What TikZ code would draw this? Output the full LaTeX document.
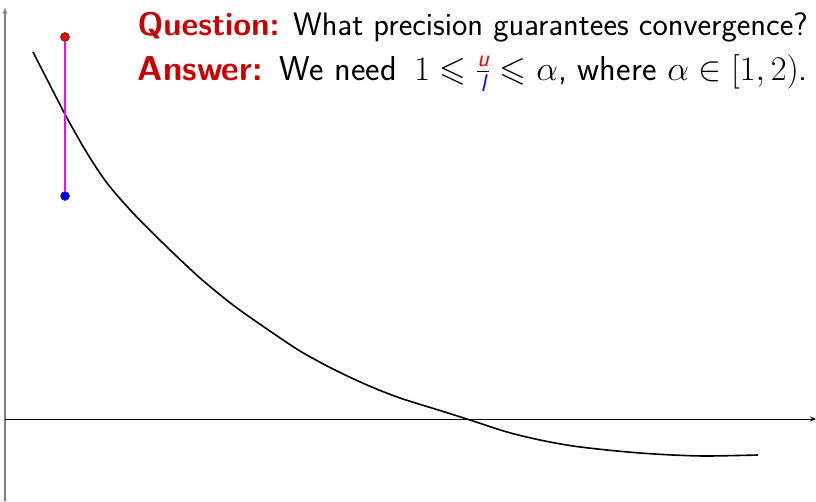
\RequirePackage{fix-cm}
\documentclass[tikz,border=0pt]{standalone}
\usepackage{amsmath,amssymb}
\usepackage{fontspec}
\setsansfont{Latin Modern Sans}
\usetikzlibrary{arrows.meta}
\definecolor{alertred}{RGB}{204,0,0}
\definecolor{axisgray}{RGB}{128,128,128}
\definecolor{mag}{RGB}{255,0,255}
\definecolor{dotred}{RGB}{230,0,0}
\definecolor{dotblue}{RGB}{0,0,255}
\tikzset{
  dot/.style={circle,draw=black!75,line width=0.6pt,inner sep=0pt,minimum size=9pt},
  txt/.style={anchor=base east,inner sep=0pt,font=\fontsize{32.5}{38}\sffamily},
  atxt/.style={anchor=base east,inner sep=0pt,font=\fontsize{34.5}{40}\sffamily},
}
\newcommand{\alrt}[1]{{\bfseries\color{alertred}#1}}
\begin{document}
\begin{tikzpicture}[x=1pt,y=-1pt]
\useasboundingbox (0,0) rectangle (816,501);
% axes
\coordinate (vb) at (5,501);
\coordinate (vt) at (5,8);
\coordinate (hl) at (5,419);
\coordinate (hr) at (816,419);
\draw[axisgray,line width=1.5pt,-{Stealth[length=6pt,width=5pt]}] (vb) -- (vt);
\draw[black,line width=1pt,-{Stealth[length=6pt,width=5pt]}] (hl) -- (hr);
% curve
\draw[black,line width=1.6pt] plot[smooth,tension=0.5] coordinates {
 (33,52) (53,91) (67,118) (87,153) (107,183) (133,213) (167,247) (200,278)
 (233,305) (267,329) (300,351) (333,369) (367,385) (400,398) (440,410.5)
 (470,420) (507,432) (540,440) (573,446) (607,450) (640,453) (673,455)
 (707,456) (758,455)};
% interval
\node[dot,fill=dotred] (top) at (65,37) {};
\node[dot,fill=dotblue] (bot) at (65,196) {};
\draw[mag,line width=1.3pt] (top) -- (bot);
% text
\node[txt] (q) at (808,35) {\alrt{Question:} What precision guarantees convergence?};
\node[atxt] (a) at (808,80) {\makebox[670pt][s]{\alrt{Answer:}\hspace{13pt plus 1fil}We need\hspace{13pt plus 1fil}$1\leqslant \frac{\textcolor{red}{\textsl{u}}}{\textcolor{blue}{\textsl{l}}}\leqslant\alpha$, where $\alpha\in[1,2)$.}};
\end{tikzpicture}
\end{document}
